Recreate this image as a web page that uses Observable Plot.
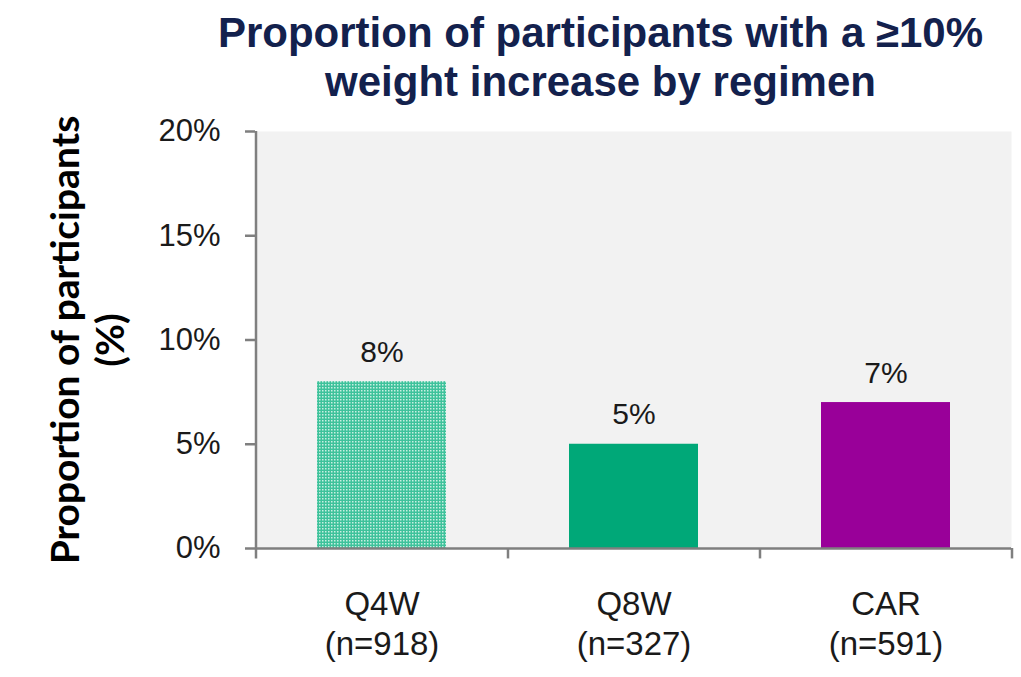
<!DOCTYPE html>
<html>
<head>
<meta charset="utf-8">
<script src="https://cdn.jsdelivr.net/npm/d3@7"></script>
<script src="https://cdn.jsdelivr.net/npm/@observablehq/plot@0.6"></script>
<style>
  html, body { margin: 0; padding: 0; background: #ffffff; }
  #wrap { width: 1021px; height: 677px; position: relative; overflow: hidden; }
  #title {
    width: 1021px; box-sizing: border-box; height: 116px;
    padding-left: 180px; padding-top: 8px;
    text-align: center; font-family: "Liberation Sans", Arial, sans-serif;
    font-weight: bold; font-size: 42px; line-height: 49px; color: #13214d;
  }
  svg { display: block; }
</style>
</head>
<body>
<div id="wrap">
  <div id="title">Proportion of participants with a ≥10%<br>weight increase by regimen</div>
  <div id="chart"></div>
</div>
<script>
const categories = ["Q4W", "Q8W", "CAR"];
const sampleLabels = ["(n=918)", "(n=327)", "(n=591)"];
const values = [8, 5, 7];
const barColors = ["url(#hatchQ4W)", "#00a878", "#990099"];
const yTicks = [0, 5, 10, 15, 20];
const yLabelLines = ["Proportion of participants", "(%)"];

const data = categories.map((c, i) => ({cat: c, value: values[i]}));
const first = categories[0], last = categories[categories.length - 1];
const halfStep = 126;

const chart = Plot.plot({
  width: 1021,
  height: 561,
  marginTop: 15,
  marginBottom: 129,
  marginLeft: 255,
  marginRight: 10,
  x: {domain: categories, paddingInner: 0.49, paddingOuter: 0.245, axis: null},
  y: {domain: [0, 20], axis: null},
  color: {domain: categories, range: barColors},
  style: {fontFamily: "'Liberation Sans', Arial, sans-serif", background: "transparent", overflow: "visible"},
  marks: [
    Plot.frame({fill: "#f2f2f2", stroke: null}),
    Plot.barY(data, {x: "cat", y: "value", fill: "cat"}),
    Plot.text(data, {x: "cat", y: "value", text: d => d.value + "%", dy: -20, lineAnchor: "bottom", fontSize: 30, fill: "#1a1a1a"}),
    Plot.ruleY([0], {stroke: "#7f7f7f", strokeWidth: 2.5}),
    Plot.ruleX(categories, {x: d => d, dx: -halfStep, y1: -0.5, y2: d => d === first ? 20 : 0, stroke: "#7f7f7f", strokeWidth: 2.5}),
    Plot.ruleX([last], {x: d => d, dx: halfStep, y1: -0.5, y2: 0, stroke: "#7f7f7f", strokeWidth: 2.5}),
    Plot.axisY({ticks: yTicks, tickFormat: d => d + "%", tickSize: 10, tickPadding: 25, fontSize: 31, label: null,
      stroke: "#7f7f7f", strokeWidth: 2.5, fill: "#1a1a1a"}),
    Plot.axisX({tickSize: 0, tickPadding: 37, fontSize: 33, lineHeight: 1.24, fill: "#1a1a1a", label: null,
      tickFormat: d => d + "\n" + sampleLabels[categories.indexOf(d)]}),
    Plot.text([yLabelLines[0]], {frameAnchor: "left", text: d => d, rotate: -90, dx: -189, textAnchor: "middle",
      fontSize: 39, fontWeight: "bold", fontFamily: "Lato, 'Open Sans', sans-serif", fill: "#000"}),
    Plot.text([yLabelLines[1]], {frameAnchor: "left", text: d => d, rotate: -90, dx: -144, textAnchor: "middle",
      fontSize: 39, fontWeight: "bold", fontFamily: "Lato, 'Open Sans', sans-serif", fill: "#000"})
  ]
});

// hatch pattern for the Q4W bar
const svg = d3.select(chart);
const defs = svg.insert("defs", ":first-child");
const pat = defs.append("pattern").attr("id", "hatchQ4W").attr("patternUnits", "userSpaceOnUse")
  .attr("width", 3).attr("height", 3);
pat.append("rect").attr("width", 3).attr("height", 3).attr("fill", "#3ec29b");
pat.append("rect").attr("x", 1).attr("y", 1).attr("width", 1.5).attr("height", 1.5).attr("fill", "#c8efe2");

document.getElementById("chart").appendChild(chart);
</script>
</body>
</html>
